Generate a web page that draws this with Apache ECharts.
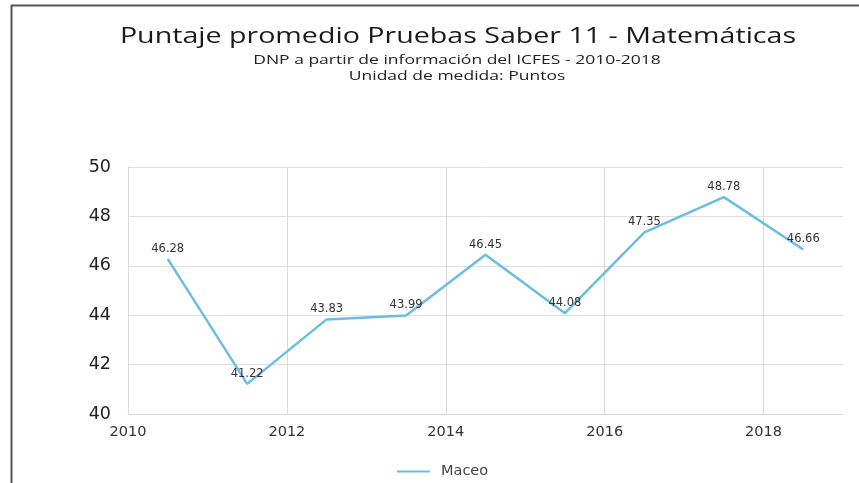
<!DOCTYPE html>
<html>
<head>
<meta charset="utf-8">
<script src="https://cdn.jsdelivr.net/npm/echarts@6/dist/echarts.min.js"></script>
<style>html,body{margin:0;padding:0;background:#fff;}#c{width:859px;height:483px;}</style>
</head>
<body>
<div id="c"></div>
<script>
const years = [2010.5, 2011.5, 2012.5, 2013.5, 2014.5, 2015.5, 2016.5, 2017.5, 2018.5];
const maceo = [46.28, 41.22, 43.83, 43.99, 46.45, 44.08, 47.35, 48.78, 46.66];
const seriesName = 'Maceo';
const titleText = 'Puntaje promedio Pruebas Saber 11 - Matemáticas';
const subtitleLine1 = 'DNP a partir de información del ICFES - 2010-2018';
const subtitleLine2 = 'Unidad de medida: Puntos';

const gridColor = '#d9d9d9';
const chart = echarts.init(document.getElementById('c'), null, {renderer: 'canvas'});
chart.setOption({
  animation: false,
  backgroundColor: '#fff',
  graphic: [
    {type: 'line', shape: {x1: 11, y1: 5.5, x2: 859, y2: 5.5}, style: {stroke: '#555', lineWidth: 2}},
    {type: 'line', shape: {x1: 11.5, y1: 5, x2: 11.5, y2: 483}, style: {stroke: '#555', lineWidth: 2}},
    {type: 'text', x: 458, y: 37, scaleX: 1.3, style: {text: titleText, align: 'center', verticalAlign: 'middle',
      font: '22px "Open Sans"', fill: '#1a1a1a'}},
    {type: 'text', x: 457, y: 60, scaleX: 1.4, style: {text: subtitleLine1, align: 'center', verticalAlign: 'middle',
      font: '12.5px "Open Sans"', fill: '#222'}},
    {type: 'text', x: 457, y: 76, scaleX: 1.4, style: {text: subtitleLine2, align: 'center', verticalAlign: 'middle',
      font: '12.5px "Open Sans"', fill: '#222'}}
  ],
  legend: {
    top: 459, left: 392, itemWidth: 33, itemHeight: 10, itemGap: 10,
    icon: 'path://M0,4 L33,4 L33,6 L0,6 Z',
    textStyle: {fontFamily: 'DejaVu Sans', fontSize: 14.5, color: '#444', padding: [0, 0, 0, 6]},
    data: [seriesName]
  },
  grid: {left: 128, right: 16, top: 167, bottom: 69, containLabel: false},
  xAxis: {
    type: 'value', min: 2010, max: 2019, interval: 2,
    axisLine: {show: true, lineStyle: {color: gridColor}},
    axisTick: {show: false},
    axisLabel: {showMaxLabel: false, fontFamily: 'DejaVu Sans', fontSize: 14.5, color: '#333', margin: 11,
      formatter: v => String(v)},
    splitLine: {show: true, lineStyle: {color: [gridColor, gridColor, gridColor, gridColor, gridColor, 'rgba(0,0,0,0)'], width: 1}}
  },
  yAxis: {
    type: 'value', min: 40, max: 50, interval: 2,
    axisLine: {show: true, lineStyle: {color: gridColor}},
    axisTick: {show: false},
    axisLabel: {fontFamily: 'DejaVu Sans', fontSize: 17.5, color: '#222', margin: 17},
    splitLine: {show: true, lineStyle: {color: '#e0e0e0', width: 1}}
  },
  series: [{
    name: seriesName, type: 'line',
    data: years.map((y, i) => [y, maceo[i]]),
    showSymbol: true, symbol: 'circle', symbolSize: 0.1,
    lineStyle: {color: '#6bbde3', width: 2.5},
    itemStyle: {color: '#6bbde3'},
    label: {show: true, position: 'top', distance: 4, fontFamily: 'DejaVu Sans', fontSize: 11.5, color: '#333',
      formatter: p => p.value[1].toFixed(2)}
  }]
});
</script>
</body>
</html>
